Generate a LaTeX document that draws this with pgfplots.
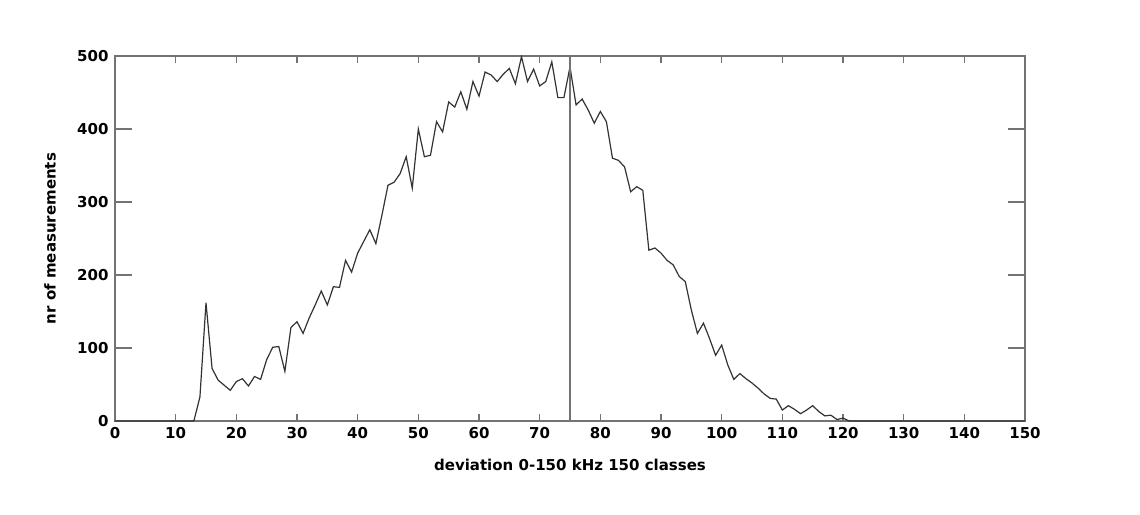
\documentclass[border=0pt]{standalone}
\usepackage{pgfplots}
\pgfplotsset{compat=1.18}
\usepackage{fontspec}
\setmainfont{DejaVu Sans}
\definecolor{framegray}{gray}{0.45}
\definecolor{curvegray}{gray}{0.2}
\begin{document}
\begin{tikzpicture}
\path[use as bounding box] (-115pt,-93pt) rectangle (1025pt,421pt);
\begin{axis}[
  at={(0pt,0pt)}, anchor=origin,
  scale only axis,
  width=910pt, height=365pt,
  xmin=0, xmax=150, ymin=0, ymax=500,
  xtick={0,10,...,150}, ytick={0,100,...,500},
  tick align=inside,
  axis line style={framegray, line width=1.3pt},
  x tick style={framegray, line width=1.2pt, /pgfplots/major tick length=7pt},
  y tick style={framegray, line width=1.2pt, /pgfplots/major tick length=17pt},
  /pgf/number format/assume math mode=true,
  /pgf/number format/set thousands separator={},
  tick label style={font=\fontsize{15}{18}\selectfont\bfseries},
  xticklabel style={yshift=-3pt},
  yticklabel style={xshift=-3pt},
  label style={font=\fontsize{15}{18}\selectfont\bfseries},
  xlabel={deviation 0-150 kHz 150 classes},
  ylabel={nr of measurements},
  xlabel style={at={(axis description cs:0.5,-0.1205)}, anchor=center},
  ylabel style={at={(axis description cs:-0.0714,0.5)}, anchor=center},
]
\addplot[curvegray, line width=1.2pt] coordinates {
(0,0) (12,0) (13,0) (14,33) (15,162) (16,72) (17,56) (18,49) (19,42) (20,54)
(21,58) (22,48) (23,61) (24,57) (25,84) (26,101) (27,102) (28,68) (29,128) (30,136)
(31,120) (32,141) (33,159) (34,178) (35,159) (36,184) (37,183) (38,220) (39,204) (40,230)
(41,246) (42,262) (43,243) (44,282) (45,323) (46,327) (47,339) (48,362) (49,319) (50,400)
(51,362) (52,364) (53,410) (54,396) (55,437) (56,430) (57,451) (58,427) (59,465) (60,445)
(61,478) (62,474) (63,465) (64,475) (65,483) (66,462) (67,499) (68,465) (69,482) (70,459)
(71,465) (72,492) (73,443) (74,443) (75,485) (76,433) (77,441) (78,426) (79,408) (80,424)
(81,410) (82,360) (83,357) (84,348) (85,314) (86,321) (87,316) (88,234) (89,237) (90,230)
(91,220) (92,214) (93,198) (94,191) (95,152) (96,120) (97,134) (98,113) (99,90) (100,104)
(101,77) (102,57) (103,65) (104,58) (105,52) (106,45) (107,37) (108,31) (109,30) (110,15)
(111,21) (112,16) (113,10) (114,15) (115,21) (116,13) (117,7) (118,8) (119,2) (120,4)
(121,0) (150,0)
};
\addplot[framegray, line width=1.6pt] coordinates {(75,0) (75,500)};
\end{axis}
\end{tikzpicture}
\end{document}
